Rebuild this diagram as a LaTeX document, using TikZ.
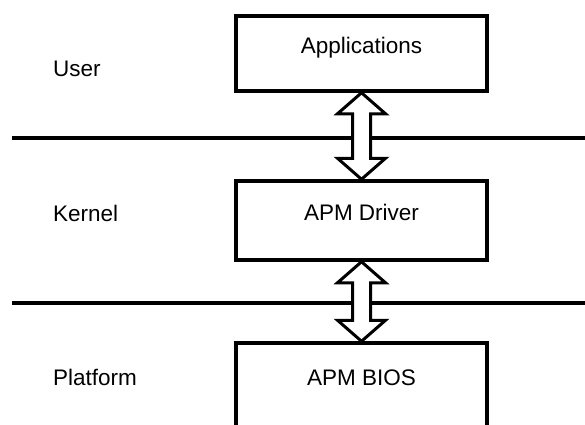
\documentclass[tikz,border=0pt]{standalone}
\usepackage{fontspec}
\setmainfont{Liberation Sans}
\usetikzlibrary{calc, positioning}

\begin{document}
\begin{tikzpicture}[x=1pt, y=1pt]
    \tikzset{
        layerbox/.style={
            rectangle,
            draw=black,
            line width=3.5pt,
            minimum width=251pt,
            text height=16pt,
            text depth=16pt,
            font=\fontsize{22.5}{27}\selectfont
        },
        layername/.style={
            anchor=base west,
            inner sep=0pt,
            font=\fontsize{22.5}{27}\selectfont
        },
        boundary/.style={
            line width=4pt
        },
        updown/.style={
            draw=black,
            fill=white,
            line width=3pt,
            line join=miter
        }
    }

    \useasboundingbox (0,0) rectangle (585,424);

    \node[layerbox, minimum height=75pt] (apps) at (361.5,370.5) {Applications};
    \node[layerbox, minimum height=79pt] (driver) at (361.5,203.5) {APM Driver};
    \node[layerbox, minimum height=84pt] (bios) at (361.5,39) {APM BIOS};

    \node[layername] (user) at (53,348) {User};
    \node[layername] (kernel) at (53,203) {Kernel};
    \node[layername] (platform) at (53,39) {Platform};

    \coordinate (userleft) at (12,286);
    \coordinate (userright) at (585,286);
    \coordinate (kernelleft) at (12,121.5);
    \coordinate (kernelright) at (585,121.5);

    \draw[boundary] (userleft) -- (userright);
    \draw[boundary] (kernelleft) -- (kernelright);

    % block arrows between the layers
    \draw[updown] (apps.south) -- ++(24,-21) -- ++(-15,0)
        -- ($(driver.north)+(9,21)$) -- ++(15,0) -- (driver.north)
        -- ++(-24,21) -- ++(15,0) -- ($(apps.south)+(-9,-21)$) -- ++(-15,0) -- cycle;

    \draw[updown] (driver.south) -- ++(24,-21) -- ++(-15,0)
        -- ($(bios.north)+(9,21)$) -- ++(15,0) -- (bios.north)
        -- ++(-24,21) -- ++(15,0) -- ($(driver.south)+(-9,-21)$) -- ++(-15,0) -- cycle;

\end{tikzpicture}
\end{document}
